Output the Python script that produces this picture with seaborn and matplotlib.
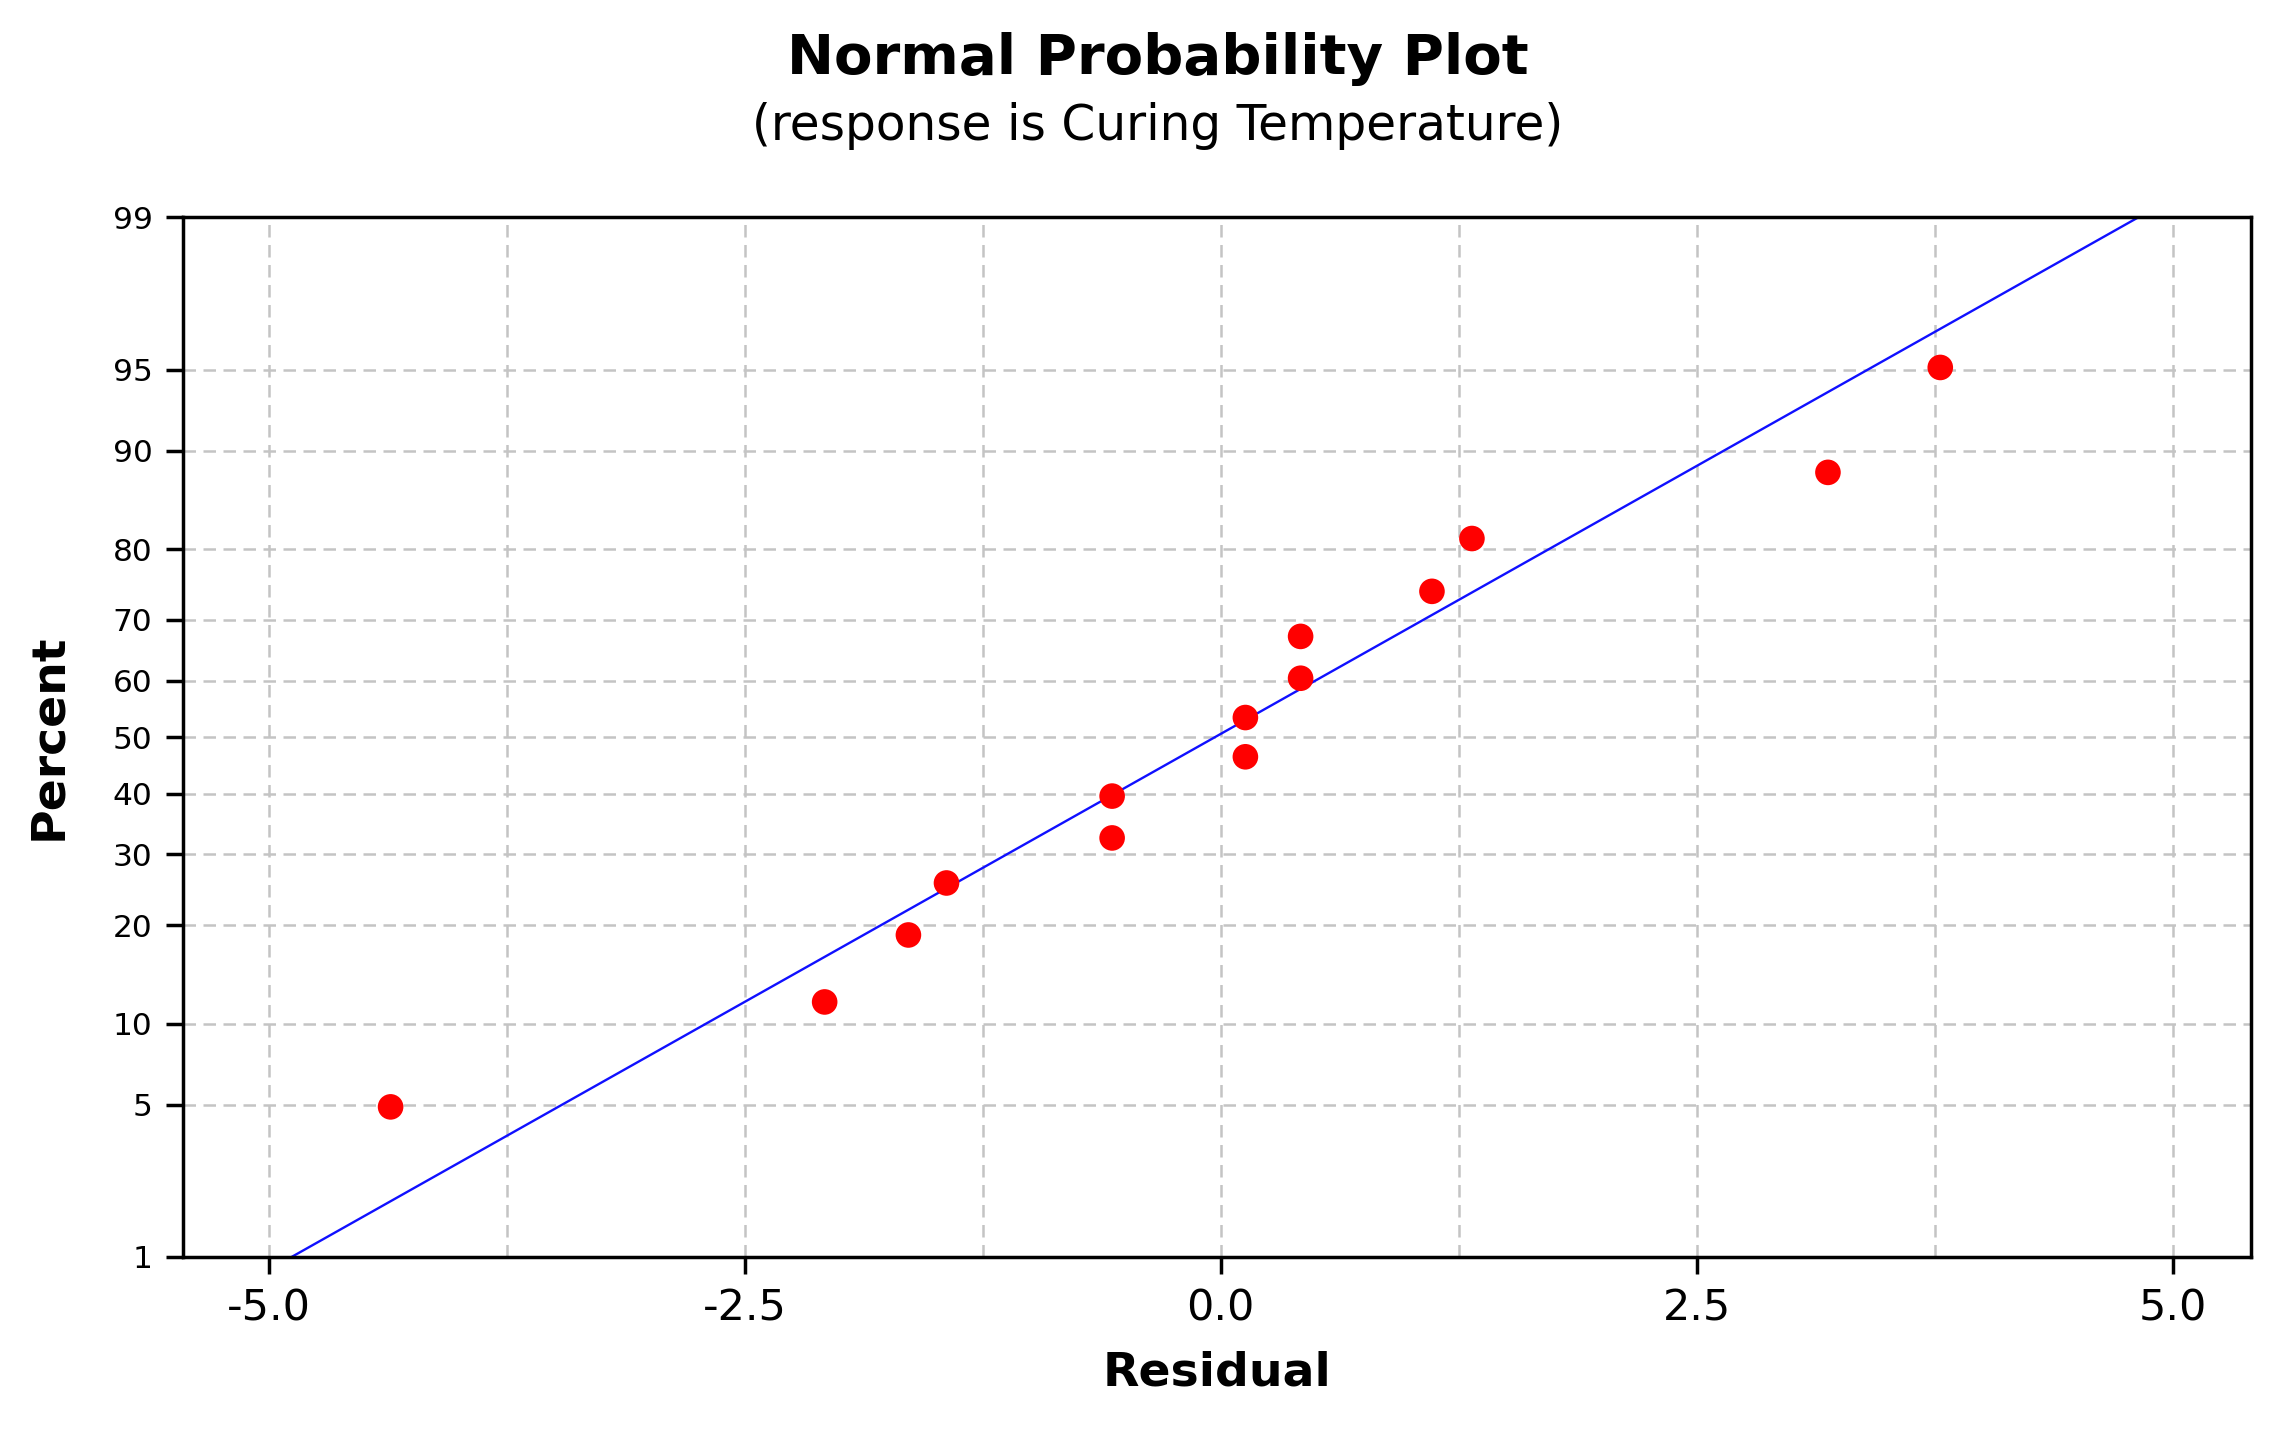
import numpy as np
import pandas as pd
import matplotlib
matplotlib.use("Agg")
import matplotlib.pyplot as plt
import seaborn as sns
from statistics import NormalDist

# Residuals and their plotting percents
residual = [-4.36, -2.08, -1.64, -1.44, -0.57, -0.57, 0.13, 0.13,
            0.42, 0.42, 1.11, 1.32, 3.19, 3.78]
percent = [4.9, 11.8, 18.8, 25.7, 32.6, 39.6, 46.5, 53.5,
           60.4, 67.4, 74.3, 81.3, 88.2, 95.1]

# Fitted normal line end points
fit_x = [-4.88, 4.82]
fit_p = [1, 99]

y_ticks = [1, 5, 10, 20, 30, 40, 50, 60, 70, 80, 90, 95, 99]
x_ticks = [-5.0, -2.5, 0.0, 2.5, 5.0]
x_minor = [-3.75, -1.25, 1.25, 3.75]

df = pd.DataFrame({"Residual": residual, "Percent": percent})
fit = pd.DataFrame({"Residual": fit_x, "Percent": fit_p})

nd = NormalDist()
_ppf = np.vectorize(lambda p: nd.inv_cdf(p), otypes=[float])
_cdf = np.vectorize(lambda z: nd.cdf(z), otypes=[float])


def fwd(p):
    p = np.clip(np.asarray(p, dtype=float), 1e-6, 100 - 1e-6)
    return _ppf(p / 100.0)


def inv(z):
    return _cdf(np.asarray(z, dtype=float)) * 100.0


sns.set_theme(style="white")
plt.rcParams['font.family'] = ['DejaVu Sans']
plt.rcParams['text.color'] = 'black'
plt.rcParams['axes.labelcolor'] = 'black'

fig = plt.figure(figsize=(22.77, 14.30), dpi=100)
ax = fig.add_axes([0.0804, 0.121, 0.908, 0.727])
ax.set_yscale('function', functions=(fwd, inv))

# grid lines
for yv in y_ticks[1:-1]:
    ax.axhline(yv, color='#c4c4c4', lw=1.8, ls=(0, (5, 3)), zorder=0)
for xv in x_ticks + x_minor:
    ax.axvline(xv, color='#c4c4c4', lw=1.8, ls=(0, (5, 3)), zorder=0)

sns.lineplot(data=fit, x="Residual", y="Percent", color='#1010ff', lw=1.7, ax=ax, zorder=2)
sns.scatterplot(data=df, x="Residual", y="Percent", color='#ff0000', s=340,
                edgecolor='none', ax=ax, zorder=3)

ax.set_xlim(-5.45, 5.41)
ax.set_ylim(1, 99)
ax.set_yticks(y_ticks)
ax.set_yticklabels([str(v) for v in y_ticks])
ax.yaxis.set_minor_locator(matplotlib.ticker.NullLocator())
ax.set_xticks(x_ticks)
ax.set_xticklabels([f"{v:.1f}" for v in x_ticks])

ax.tick_params(axis='y', direction='out', length=12, width=2.5, labelsize=22.5,
               left=True, pad=10, colors='black')
ax.tick_params(axis='x', direction='out', length=12, width=2.5, labelsize=31,
               bottom=True, pad=10, colors='black')
for s in ax.spines.values():
    s.set_color('black')
    s.set_linewidth(2.5)

ax.set_xlabel("Residual", fontsize=34, fontweight='bold', labelpad=15)
ax.set_ylabel("Percent", fontsize=34, fontweight='bold', labelpad=30)

fig.text(0.5086, 0.959, "Normal Probability Plot", ha='center', va='center',
         fontsize=40.5, fontweight='bold')
fig.text(0.5086, 0.912, "(response is Curing Temperature)", ha='center', va='center',
         fontsize=35)

fig.savefig("out.png", dpi=100)
